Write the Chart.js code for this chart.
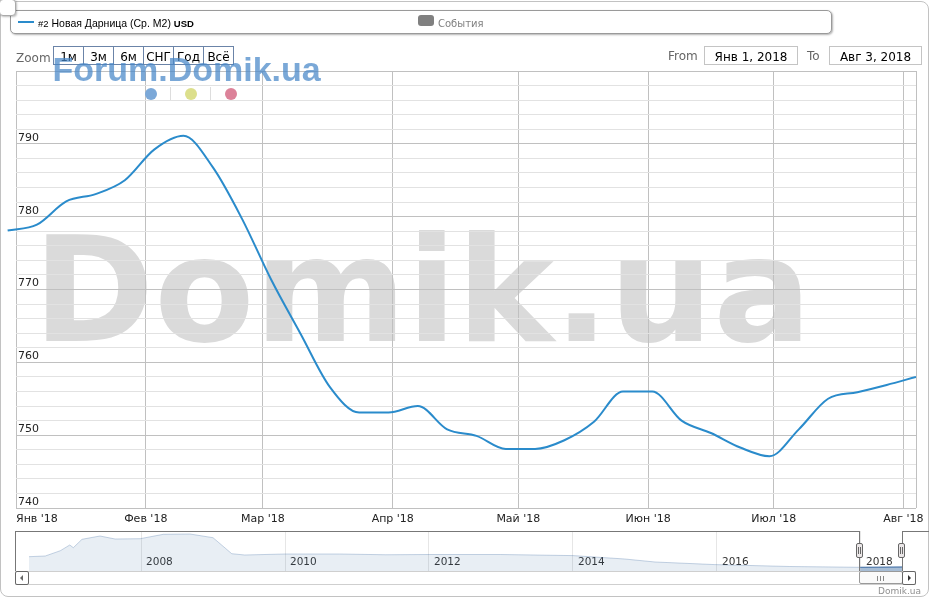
<!DOCTYPE html>
<html>
<head>
<meta charset="utf-8">
<script src="https://cdn.jsdelivr.net/npm/chart.js@4.4.1/dist/chart.umd.min.js"></script>
<style>
  html, body { margin: 0; padding: 0; background: #fff; overflow: hidden; }
  body { width: 931px; height: 600px; position: relative; font-family: "DejaVu Sans", sans-serif; }
  .abs { position: absolute; }
  .txt { position: absolute; line-height: 1; white-space: nowrap; }
  .btn { position: absolute; top: 46px; width: 31px; height: 19px; box-sizing: border-box;
         border: 1px solid #6b84a8; font-size: 12px; line-height: 1; text-align: center;
         padding-top: 4px; color: #000; }
  .inp { position: absolute; top: 46px; height: 19px; box-sizing: border-box; border: 1px solid #c4c4c4;
         font-size: 12px; line-height: 1; text-align: center; padding-top: 4px; color: #000; }
  .dot { position: absolute; width: 12px; height: 12px; border-radius: 50%; top: 88px; }
  .sep { position: absolute; width: 1px; top: 87px; height: 13px; background: #dddddd; }
  .hline { position: absolute; height: 1px; background: #777; }
  .vline { position: absolute; width: 1px; background: #777; }
  .handle { position: absolute; top: 543px; width: 7px; height: 15px; box-sizing: border-box;
            border: 1px solid #666; border-radius: 2px; background: #ebe7e8; }
  .handle::before, .handle::after { content: ""; position: absolute; top: 3px; width: 1px; height: 7px; background: #666; }
  .handle::before { left: 1px; }
  .handle::after { left: 3px; }
</style>
</head>
<body>

<!-- big watermark sits behind the chart canvas -->
<div class="txt" style="left:33px; top:216.5px; font-size:146px; font-weight:bold; color:#dadada; z-index:0;">Domik.ua</div>

<canvas id="main" width="931" height="600" class="abs" style="left:0; top:0; z-index:1;"></canvas>
<canvas id="nav" width="931" height="44" class="abs" style="left:0; top:531px; z-index:1;"></canvas>

<!-- outer frame -->
<div class="abs" style="left:0; top:1px; width:929px; height:596px; box-sizing:border-box; border:1px solid #c2c2c2; border-radius:8px; z-index:2;"></div>

<!-- legend -->
<div class="abs" style="left:10px; top:10px; width:822px; height:24px; box-sizing:border-box; border:1px solid #9a9a9a; border-radius:5px; box-shadow:1px 1px 2px rgba(0,0,0,0.3); background:#fff; z-index:2;"></div>
<div class="abs" style="left:18px; top:21px; width:16px; height:2px; background:#2a8bcb; z-index:3;"></div>
<div class="txt" style="left:38px; top:17.8px; font-family:'Liberation Sans', Arial, sans-serif; font-size:10.5px; color:#000; z-index:3;"><span style="font-size:9.5px">#2</span> Новая Дарница (Ср. М2) <b style="font-size:9.5px">USD</b></div>
<div class="abs" style="left:418px; top:15px; width:16px; height:11px; border-radius:3px; background:#808080; z-index:3;"></div>
<div class="txt" style="left:438px; top:18.5px; font-size:10px; color:#808080; z-index:3;">События</div>
<div class="abs" style="left:-1px; top:-1px; width:17px; height:17px; box-sizing:border-box; border:1px solid #aaa; border-radius:4px; background:#fff; box-shadow:1px 1px 2px rgba(0,0,0,0.25); z-index:4;"></div>

<!-- range selector -->
<div class="txt" style="left:16px; top:51.5px; font-size:12px; color:#666; z-index:3;">Zoom</div>
<div class="btn" style="left:53px; z-index:3;">1м</div>
<div class="btn" style="left:83px; z-index:3;">3м</div>
<div class="btn" style="left:113px; z-index:3;">6м</div>
<div class="btn" style="left:143px; z-index:3;">СНГ</div>
<div class="btn" style="left:173px; z-index:3;">Год</div>
<div class="btn" style="left:203px; z-index:3;">Всё</div>
<div class="txt" style="left:668px; top:50px; font-size:12px; color:#666; z-index:3;">From</div>
<div class="inp" style="left:704px; width:94px; z-index:3;">Янв 1, 2018</div>
<div class="txt" style="left:807px; top:50px; font-size:12px; color:#666; z-index:3;">To</div>
<div class="inp" style="left:829px; width:93px; z-index:3;">Авг 3, 2018</div>

<!-- small forum watermark and the coloured dots -->
<div class="txt" style="left:52.5px; top:52.2px; font-family:'Liberation Sans', Arial, sans-serif; font-size:34px; font-weight:bold; color:rgba(70,135,200,0.72); z-index:5;">Forum.Domik.ua</div>
<div class="dot" style="left:144.5px; background:#7ba8d8; z-index:3;"></div>
<div class="sep" style="left:170px; z-index:3;"></div>
<div class="dot" style="left:184.5px; background:#dcdf8c; z-index:3;"></div>
<div class="sep" style="left:210px; z-index:3;"></div>
<div class="dot" style="left:225px; background:#dc8299; z-index:3;"></div>

<!-- navigator frame, handles and scrollbar -->
<div class="hline" style="left:15px; top:531px; width:845px; z-index:3;"></div>
<div class="vline" style="left:15px; top:531px; height:41px; z-index:3;"></div>
<div class="vline" style="left:859px; top:531px; height:41px; z-index:3;"></div>
<div class="vline" style="left:902px; top:531px; height:41px; z-index:3;"></div>
<div class="hline" style="left:902px; top:531px; width:27px; z-index:3;"></div>
<div class="handle" style="left:856px; z-index:4;"></div>
<div class="handle" style="left:898px; z-index:4;"></div>
<div class="abs" style="left:15px; top:571px; width:901px; height:14px; box-sizing:border-box; border-top:1px solid #cfcfcf; border-bottom:1px solid #cfcfcf; z-index:3;"></div>
<div class="abs" style="left:15px; top:571px; width:14px; height:14px; box-sizing:border-box; border:1px solid #666; border-radius:2px; background:#fff; z-index:4;"></div>
<div class="abs" style="left:20px; top:575px; width:0; height:0; border-top:3px solid transparent; border-bottom:3px solid transparent; border-right:3px solid #666; z-index:5;"></div>
<div class="abs" style="left:859px; top:571px; width:44px; height:13px; box-sizing:border-box; border:1px solid #999; border-radius:2px; background:#fafafa; z-index:4;"></div>
<div class="abs" style="left:877px; top:576px; width:1px; height:5px; background:#888; z-index:5;"></div>
<div class="abs" style="left:880px; top:576px; width:1px; height:5px; background:#888; z-index:5;"></div>
<div class="abs" style="left:883px; top:576px; width:1px; height:5px; background:#888; z-index:5;"></div>
<div class="abs" style="left:902px; top:571px; width:14px; height:14px; box-sizing:border-box; border:1px solid #666; border-radius:2px; background:#fff; z-index:4;"></div>
<div class="abs" style="left:908px; top:575px; width:0; height:0; border-top:3px solid transparent; border-bottom:3px solid transparent; border-left:3px solid #333; z-index:5;"></div>
<div class="txt" style="left:878px; top:587.4px; font-size:9px; color:#909090; z-index:3;">Domik.ua</div>

<script>
// main series: days counted from Jan 1, 2018
const weekDays = [-2, 5, 12, 19, 26, 33, 40, 47, 54, 61, 68, 75,
  82, 89, 96, 103, 110, 117, 124, 131, 138, 145, 152, 159, 166, 173, 180, 187, 194, 201, 208, 215];
const prices = [778.1, 778.9, 782.1, 783.1, 785.0, 789.2, 791.1, 786.8, 779.7, 771.3, 763.9, 756.6,
  753.1, 753.1, 754.0, 750.8, 749.9, 748.1, 748.1, 749.3, 751.8, 756.0, 756.0, 752.0, 750.3, 748.3,
  747.1, 750.8, 755.0, 755.9, 756.9, 758.0];

const monthDays = [0, 31, 59, 90, 120, 151, 181, 212];
const monthLabels = ["Янв '18", "Фев '18", "Мар '18", "Апр '18", "Май '18", "Июн '18", "Июл '18", "Авг '18"];
const yLabels = [740, 750, 760, 770, 780, 790];

// navigator (whole history)
const navYears = [2006.44, 2006.67, 2006.88, 2007.01, 2007.06, 2007.18, 2007.43, 2007.64, 2007.99,
  2008.31, 2008.68, 2009.0, 2009.26, 2009.44, 2010.0, 2010.76, 2011.4, 2012.01, 2012.99, 2014.0,
  2014.72, 2015.14, 2015.97, 2017.01, 2017.99, 2018.57];
const navValues = [1172, 1200, 1412, 1640, 1532, 1868, 2000, 1880, 1892,
  2068, 2080, 1932, 1292, 1240, 1280, 1280, 1250, 1260, 1260, 1216,
  1080, 960, 856, 780, 748, 760];
const navSelYears = [2017.99, 2018.25, 2018.57];
const navSelValues = [748, 752, 760];
const navYearTicks = [2008, 2010, 2012, 2014, 2016, 2018];

Chart.defaults.font.family = "'DejaVu Sans', sans-serif";

new Chart(document.getElementById("main"), {
  type: "line",
  data: {
    datasets: [{
      data: weekDays.map((d, i) => ({ x: d, y: prices[i] })),
      borderColor: "#2a8bcb",
      borderWidth: 2,
      pointRadius: 0,
      cubicInterpolationMode: "monotone",
      clip: { left: 10, top: 0, right: 0, bottom: 0 },
    }],
  },
  options: {
    responsive: false,
    animation: false,
    events: [],
    layout: { padding: { left: 12, top: 71, right: 15, bottom: 68.8 } },
    plugins: { legend: { display: false }, tooltip: { enabled: false } },
    scales: {
      x: {
        type: "linear",
        min: 0,
        max: 215,
        afterBuildTicks: (scale) => {
          scale.ticks = monthDays.concat([215]).map((v) => ({ value: v }));
        },
        grid: { color: "#c0c0c0", drawTicks: false },
        border: { display: false },
        ticks: {
          autoSkip: false,
          maxRotation: 0,
          align: "inner",
          padding: 5,
          color: "#222",
          font: { size: 11 },
          callback: (v) => {
            const i = monthDays.indexOf(v);
            return i >= 0 ? monthLabels[i] : "";
          },
        },
      },
      y: {
        min: 740,
        max: 800,
        grid: {
          drawTicks: false,
          color: (ctx) => (ctx.tick && ctx.tick.value % 10 === 0 ? "#c0c0c0" : "#e2e2e2"),
        },
        border: { display: false },
        ticks: {
          stepSize: 2,
          maxTicksLimit: 40,
          autoSkip: false,
          mirror: true,
          padding: 2,
          labelOffset: -6,
          color: "#222",
          font: { size: 11 },
          callback: (v) => (yLabels.includes(v) ? String(v) : ""),
        },
      },
    },
  },
});

new Chart(document.getElementById("nav"), {
  type: "line",
  data: {
    datasets: [
      {
        data: navYears.map((x, i) => ({ x, y: navValues[i] })),
        borderColor: "rgba(69,114,167,0.3)",
        backgroundColor: "rgba(69,114,167,0.12)",
        borderWidth: 1,
        fill: "start",
        pointRadius: 0,
        tension: 0,
      },
      {
        data: navSelYears.map((x, i) => ({ x, y: navSelValues[i] })),
        borderColor: "#4572a7",
        backgroundColor: "rgba(69,114,167,0.4)",
        borderWidth: 1,
        fill: "start",
        pointRadius: 0,
        tension: 0,
      },
    ],
  },
  options: {
    responsive: false,
    animation: false,
    events: [],
    layout: { padding: { left: 29, right: 29, top: 0, bottom: 0 } },
    plugins: { legend: { display: false }, tooltip: { enabled: false } },
    scales: {
      x: {
        type: "linear",
        min: 2006.444,
        max: 2018.57,
        afterBuildTicks: (scale) => {
          scale.ticks = navYearTicks.map((v) => ({ value: v }));
        },
        grid: { color: "#e6e6e6", drawTicks: false },
        border: { display: false },
        ticks: {
          mirror: true,
          padding: 2,
          align: "start",
          labelOffset: 5,
          autoSkip: false,
          maxRotation: 0,
          color: "#333",
          font: { size: 10.5 },
          callback: (v) => String(v),
        },
      },
      y: { display: false, min: 600, max: 2200 },
    },
  },
});
</script>
</body>
</html>
